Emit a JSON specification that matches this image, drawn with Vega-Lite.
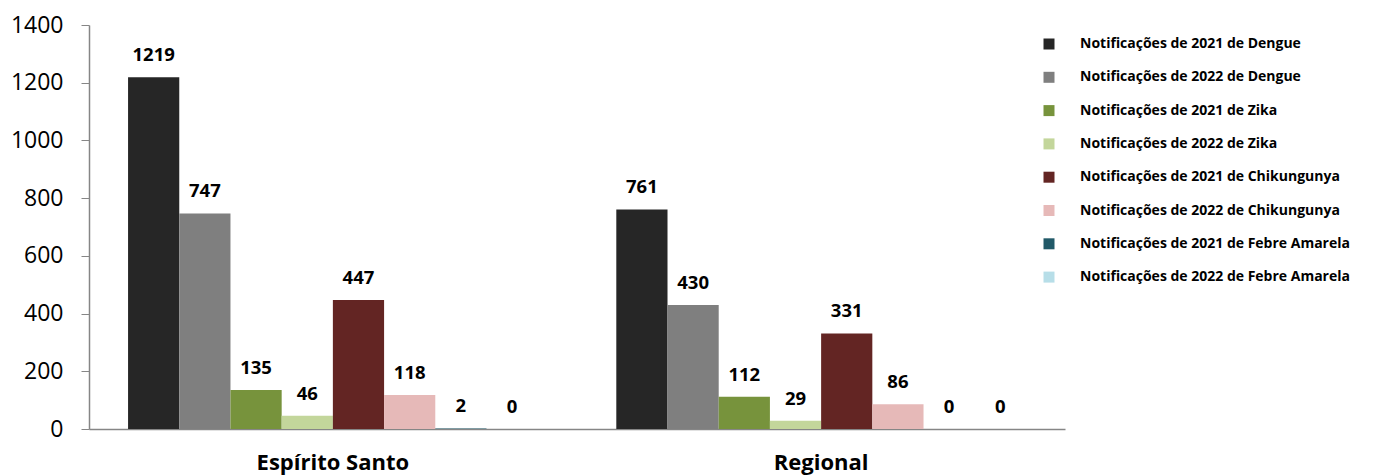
{
  "$schema": "https://vega.github.io/schema/vega-lite/v6.json",
  "width": 976,
  "height": 404,
  "autosize": "none",
  "padding": {"left": 89, "top": 25, "right": 317, "bottom": 46},
  "background": "white",
  "config": {
    "view": {"stroke": null},
    "font": "Open Sans"
  },
  "data": {
    "values": [
      {"local": "Espírito Santo", "serie": "Notificações de 2021 de Dengue", "casos": 1219},
      {"local": "Espírito Santo", "serie": "Notificações de 2022 de Dengue", "casos": 747},
      {"local": "Espírito Santo", "serie": "Notificações de 2021 de Zika", "casos": 135},
      {"local": "Espírito Santo", "serie": "Notificações de 2022 de Zika", "casos": 46},
      {"local": "Espírito Santo", "serie": "Notificações de 2021 de Chikungunya", "casos": 447},
      {"local": "Espírito Santo", "serie": "Notificações de 2022 de Chikungunya", "casos": 118},
      {"local": "Espírito Santo", "serie": "Notificações de 2021 de Febre Amarela", "casos": 2},
      {"local": "Espírito Santo", "serie": "Notificações de 2022 de Febre Amarela", "casos": 0},
      {"local": "Regional", "serie": "Notificações de 2021 de Dengue", "casos": 761},
      {"local": "Regional", "serie": "Notificações de 2022 de Dengue", "casos": 430},
      {"local": "Regional", "serie": "Notificações de 2021 de Zika", "casos": 112},
      {"local": "Regional", "serie": "Notificações de 2022 de Zika", "casos": 29},
      {"local": "Regional", "serie": "Notificações de 2021 de Chikungunya", "casos": 331},
      {"local": "Regional", "serie": "Notificações de 2022 de Chikungunya", "casos": 86},
      {"local": "Regional", "serie": "Notificações de 2021 de Febre Amarela", "casos": 0},
      {"local": "Regional", "serie": "Notificações de 2022 de Febre Amarela", "casos": 0}
    ]
  },
  "encoding": {
    "x": {
      "field": "local",
      "type": "nominal",
      "scale": {"paddingInner": 0.161, "paddingOuter": 0.08},
      "axis": {
        "title": null,
        "labelAngle": 0,
        "ticks": false,
        "domainColor": "#868686",
        "domainWidth": 1.5,
        "labelFontSize": 22,
        "labelFontWeight": "bold",
        "labelColor": "black",
        "labelPadding": 23
      }
    },
    "xOffset": {
      "field": "serie",
      "type": "nominal",
      "sort": [
        "Notificações de 2021 de Dengue",
        "Notificações de 2022 de Dengue",
        "Notificações de 2021 de Zika",
        "Notificações de 2022 de Zika",
        "Notificações de 2021 de Chikungunya",
        "Notificações de 2022 de Chikungunya",
        "Notificações de 2021 de Febre Amarela",
        "Notificações de 2022 de Febre Amarela"
      ]
    },
    "y": {
      "field": "casos",
      "type": "quantitative",
      "scale": {"domain": [0, 1400], "nice": false},
      "axis": {
        "title": null,
        "values": [0, 200, 400, 600, 800, 1000, 1200, 1400],
        "format": "d",
        "grid": false,
        "domainColor": "#868686",
        "domainWidth": 1.5,
        "tickColor": "#868686",
        "tickSize": 8,
        "labelFontSize": 23,
        "labelColor": "black",
        "labelPadding": 18
      }
    }
  },
  "layer": [
    {
      "mark": {"type": "bar"},
      "encoding": {
        "color": {
          "field": "serie",
          "type": "nominal",
          "scale": {
            "domain": [
              "Notificações de 2021 de Dengue",
              "Notificações de 2022 de Dengue",
              "Notificações de 2021 de Zika",
              "Notificações de 2022 de Zika",
              "Notificações de 2021 de Chikungunya",
              "Notificações de 2022 de Chikungunya",
              "Notificações de 2021 de Febre Amarela",
              "Notificações de 2022 de Febre Amarela"
            ],
            "range": ["#262626", "#7f7f7f", "#77933c", "#c3d69b", "#632523", "#e6b9b8", "#215968", "#b7dee8"]
          },
          "legend": {
            "title": null,
            "orient": "none",
            "legendX": 953,
            "legendY": 12,
            "padding": 0,
            "symbolType": "square",
            "symbolSize": 121,
            "symbolStrokeWidth": 0,
            "labelFontSize": 14,
            "labelFontWeight": "bold",
            "labelColor": "black",
            "labelOffset": 24,
            "labelLimit": 400,
            "rowPadding": 19.3
          }
        }
      }
    },
    {
      "mark": {"type": "text", "fontWeight": "bold", "fontSize": 18.5, "baseline": "alphabetic", "dy": -16, "color": "black"},
      "encoding": {
        "text": {"field": "casos", "type": "quantitative"}
      }
    }
  ]
}
